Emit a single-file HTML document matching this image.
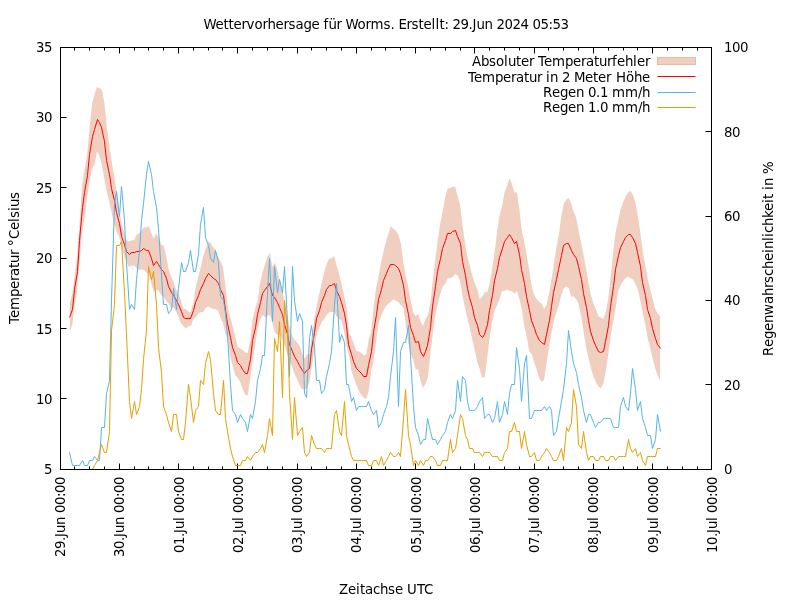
<!DOCTYPE html>
<html lang="de"><head><meta charset="utf-8"><title>Wettervorhersage für Worms</title>
<style>html,body{margin:0;padding:0;background:#fff}body{width:800px;height:600px;overflow:hidden}svg{display:block}text{font-family:"DejaVu Sans","Liberation Sans",sans-serif;font-size:13.33px;fill:#000}</style></head><body>
<svg width="800" height="600" viewBox="0 0 800 600">
<rect width="800" height="600" fill="#fff"/>
<path d="M60.5,469.5v-6M60.5,47.5v6M74.5,469.5v-3M74.5,47.5v3M89.5,469.5v-3M89.5,47.5v3M104.5,469.5v-3M104.5,47.5v3M119.5,469.5v-6M119.5,47.5v6M134.5,469.5v-3M134.5,47.5v3M148.5,469.5v-3M148.5,47.5v3M163.5,469.5v-3M163.5,47.5v3M178.5,469.5v-6M178.5,47.5v6M193.5,469.5v-3M193.5,47.5v3M208.5,469.5v-3M208.5,47.5v3M222.5,469.5v-3M222.5,47.5v3M237.5,469.5v-6M237.5,47.5v6M252.5,469.5v-3M252.5,47.5v3M267.5,469.5v-3M267.5,47.5v3M282.5,469.5v-3M282.5,47.5v3M297.5,469.5v-6M297.5,47.5v6M311.5,469.5v-3M311.5,47.5v3M326.5,469.5v-3M326.5,47.5v3M341.5,469.5v-3M341.5,47.5v3M356.5,469.5v-6M356.5,47.5v6M371.5,469.5v-3M371.5,47.5v3M385.5,469.5v-3M385.5,47.5v3M400.5,469.5v-3M400.5,47.5v3M415.5,469.5v-6M415.5,47.5v6M430.5,469.5v-3M430.5,47.5v3M445.5,469.5v-3M445.5,47.5v3M460.5,469.5v-3M460.5,47.5v3M474.5,469.5v-6M474.5,47.5v6M489.5,469.5v-3M489.5,47.5v3M504.5,469.5v-3M504.5,47.5v3M519.5,469.5v-3M519.5,47.5v3M534.5,469.5v-6M534.5,47.5v6M548.5,469.5v-3M548.5,47.5v3M563.5,469.5v-3M563.5,47.5v3M578.5,469.5v-3M578.5,47.5v3M593.5,469.5v-6M593.5,47.5v6M608.5,469.5v-3M608.5,47.5v3M623.5,469.5v-3M623.5,47.5v3M637.5,469.5v-3M637.5,47.5v3M652.5,469.5v-6M652.5,47.5v6M667.5,469.5v-3M667.5,47.5v3M682.5,469.5v-3M682.5,47.5v3M697.5,469.5v-3M697.5,47.5v3M711.5,469.5v-6M711.5,47.5v6M60.5,469.5h6M60.5,398.5h6M60.5,328.5h6M60.5,258.5h6M60.5,187.5h6M60.5,117.5h6M60.5,47.5h6M711.5,469.5h-6M711.5,384.5h-6M711.5,300.5h-6M711.5,216.5h-6M711.5,131.5h-6M711.5,47.5h-6" fill="none" stroke="#000" stroke-width="1"/>
<polygon points="69.9,303.5 72.3,293.7 74.8,274.0 77.3,254.3 79.8,221.9 82.2,183.9 84.7,168.5 87.2,154.4 89.6,127.7 92.1,103.8 94.6,93.9 97.0,86.9 99.5,88.3 102.0,89.7 104.5,103.8 106.9,127.7 109.4,146.0 111.9,162.8 114.3,176.9 116.8,192.4 119.3,209.3 121.7,224.7 124.2,233.2 126.7,240.2 129.2,241.6 131.6,240.2 134.1,240.2 136.6,234.6 139.0,233.2 141.5,230.4 144.0,227.6 146.4,227.6 148.9,226.1 151.4,233.2 153.8,238.8 156.3,233.2 158.8,237.4 161.3,244.4 163.7,245.8 166.2,255.7 168.7,269.8 171.1,276.8 173.6,282.4 176.1,289.4 178.5,293.7 181.0,300.7 183.5,309.1 186.0,309.1 188.4,312.0 190.9,312.0 193.4,302.1 195.8,286.6 198.3,276.8 200.8,266.9 203.2,255.7 205.7,248.7 208.2,241.6 210.7,243.0 213.1,247.2 215.6,250.1 218.1,257.1 220.5,261.3 223.0,266.9 225.5,286.6 227.9,307.7 230.4,317.6 232.9,327.4 235.3,335.9 237.8,347.1 240.3,348.5 242.8,349.9 245.2,352.7 247.7,352.7 250.2,340.1 252.6,319.0 255.1,309.1 257.6,300.7 260.0,283.8 262.5,272.6 265.0,264.1 267.5,257.1 269.9,252.9 272.4,266.9 274.9,262.7 277.3,269.8 279.8,281.0 282.3,289.4 284.7,303.5 287.2,314.8 289.7,327.4 292.2,335.9 294.6,340.1 297.1,342.9 299.6,345.7 302.0,352.7 304.5,358.4 307.0,354.2 309.4,354.2 311.9,334.5 314.4,319.0 316.8,304.9 319.3,293.7 321.8,282.4 324.3,271.2 326.7,264.1 329.2,258.5 331.7,258.5 334.1,255.7 336.6,265.5 339.1,274.0 341.5,283.8 344.0,295.1 346.5,306.3 349.0,333.1 351.4,337.3 353.9,344.3 356.4,351.3 358.8,351.3 361.3,352.7 363.8,355.6 366.2,354.2 368.7,340.1 371.2,331.6 373.7,306.3 376.1,288.0 378.6,275.4 381.1,262.7 383.5,251.5 386.0,241.6 388.5,233.2 390.9,226.1 393.4,229.0 395.9,230.4 398.3,234.6 400.8,243.0 403.3,262.7 405.8,276.8 408.2,286.6 410.7,300.7 413.2,312.0 415.6,316.2 418.1,313.4 420.6,321.8 423.0,326.0 425.5,319.0 428.0,314.8 430.5,302.1 432.9,279.6 435.4,258.5 437.9,238.8 440.3,223.3 442.8,210.7 445.3,196.6 447.7,188.2 450.2,188.2 452.7,186.8 455.2,186.8 457.6,196.6 460.1,205.0 462.6,226.1 465.0,243.0 467.5,257.1 470.0,266.9 472.4,275.4 474.9,283.8 477.4,289.4 479.8,299.3 482.3,296.5 484.8,292.3 487.3,292.3 489.7,283.8 492.2,268.3 494.7,251.5 497.1,231.8 499.6,214.9 502.1,206.5 504.5,192.4 507.0,185.4 509.5,178.3 512.0,183.9 514.4,192.4 516.9,192.4 519.4,209.3 521.8,230.4 524.3,241.6 526.8,255.7 529.2,269.8 531.7,286.6 534.2,295.1 536.7,299.3 539.1,302.1 541.6,303.5 544.1,309.1 546.5,304.9 549.0,293.7 551.5,279.6 553.9,264.1 556.4,247.2 558.9,234.6 561.3,216.3 563.8,203.6 566.3,199.4 568.8,198.0 571.2,203.6 573.7,212.1 576.2,217.7 578.6,230.4 581.1,243.0 583.6,255.7 586.0,268.3 588.5,282.4 591.0,295.1 593.5,303.5 595.9,309.1 598.4,316.2 600.9,317.6 603.3,319.0 605.8,312.0 608.3,297.9 610.7,276.8 613.2,251.5 615.7,231.8 618.2,220.5 620.6,209.3 623.1,202.2 625.6,196.6 628.0,192.4 630.5,191.0 633.0,195.2 635.4,202.2 637.9,216.3 640.4,233.2 642.8,251.5 645.3,265.5 647.8,279.6 650.3,289.4 652.7,299.3 655.2,309.1 657.7,313.4 660.1,316.2 660.1,380.9 657.7,375.3 655.2,368.2 652.7,358.4 650.3,348.5 647.8,338.7 645.3,324.6 642.8,313.4 640.4,300.7 637.9,289.4 635.4,283.8 633.0,279.6 630.5,278.2 628.0,276.8 625.6,278.2 623.1,281.0 620.6,285.2 618.2,290.9 615.7,307.7 613.2,321.8 610.7,335.9 608.3,354.2 605.8,371.0 603.3,383.7 600.9,387.9 598.4,386.5 595.9,382.3 593.5,376.7 591.0,368.2 588.5,358.4 586.0,347.1 583.6,331.6 581.1,316.2 578.6,303.5 576.2,299.3 573.7,296.5 571.2,296.5 568.8,288.0 566.3,286.6 563.8,288.0 561.3,295.1 558.9,304.9 556.4,312.0 553.9,320.4 551.5,333.1 549.0,347.1 546.5,364.0 544.1,379.5 541.6,382.3 539.1,378.1 536.7,369.6 534.2,362.6 531.7,354.2 529.2,351.3 526.8,337.3 524.3,326.0 521.8,309.1 519.4,299.3 516.9,290.9 514.4,293.7 512.0,290.9 509.5,290.9 507.0,289.4 504.5,290.9 502.1,290.9 499.6,299.3 497.1,304.9 494.7,310.5 492.2,321.8 489.7,337.3 487.3,357.0 484.8,376.7 482.3,378.1 479.8,369.6 477.4,362.6 474.9,351.3 472.4,340.1 470.0,328.8 467.5,319.0 465.0,307.7 462.6,296.5 460.1,281.0 457.6,275.4 455.2,274.0 452.7,276.8 450.2,278.2 447.7,278.2 445.3,283.8 442.8,286.6 440.3,293.7 437.9,303.5 435.4,314.8 432.9,333.1 430.5,352.7 428.0,376.7 425.5,383.7 423.0,387.9 420.6,380.9 418.1,369.6 415.6,369.6 413.2,359.8 410.7,354.2 408.2,342.9 405.8,324.6 403.3,307.7 400.8,304.9 398.3,302.1 395.9,300.7 393.4,299.3 390.9,302.1 388.5,303.5 386.0,306.3 383.5,310.5 381.1,316.2 378.6,323.2 376.1,341.5 373.7,359.8 371.2,371.0 368.7,390.7 366.2,399.2 363.8,397.8 361.3,394.9 358.8,390.7 356.4,385.1 353.9,378.1 351.4,371.0 349.0,355.6 346.5,345.7 344.0,331.6 341.5,320.4 339.1,319.0 336.6,316.2 334.1,312.0 331.7,312.0 329.2,312.0 326.7,314.8 324.3,319.0 321.8,321.8 319.3,327.4 316.8,333.1 314.4,347.1 311.9,365.4 309.4,382.3 307.0,387.9 304.5,389.3 302.0,389.3 299.6,385.1 297.1,379.5 294.6,373.8 292.2,366.8 289.7,361.2 287.2,354.2 284.7,345.7 282.3,340.1 279.8,334.5 277.3,334.5 274.9,333.1 272.4,323.2 269.9,314.8 267.5,316.2 265.0,317.6 262.5,314.8 260.0,320.4 257.6,328.8 255.1,345.7 252.6,361.2 250.2,379.5 247.7,394.9 245.2,394.9 242.8,389.3 240.3,382.3 237.8,378.1 235.3,375.3 232.9,366.8 230.4,357.0 227.9,338.7 225.5,334.5 223.0,323.2 220.5,317.6 218.1,310.5 215.6,309.1 213.1,309.1 210.7,307.7 208.2,306.3 205.7,307.7 203.2,312.0 200.8,312.0 198.3,313.4 195.8,317.6 193.4,319.0 190.9,326.0 188.4,326.0 186.0,328.8 183.5,326.0 181.0,323.2 178.5,316.2 176.1,312.0 173.6,307.7 171.1,307.7 168.7,303.5 166.2,300.7 163.7,296.5 161.3,295.1 158.8,290.9 156.3,289.4 153.8,292.3 151.4,283.8 148.9,274.0 146.4,272.6 144.0,269.8 141.5,269.8 139.0,269.8 136.6,268.3 134.1,265.5 131.6,265.5 129.2,266.9 126.7,262.7 124.2,255.7 121.7,247.2 119.3,237.4 116.8,231.8 114.3,224.7 111.9,213.5 109.4,202.2 106.9,192.4 104.5,179.7 102.0,165.7 99.5,155.8 97.0,151.6 94.6,164.3 92.1,168.5 89.6,181.1 87.2,196.6 84.7,216.3 82.2,231.8 79.8,258.5 77.3,288.0 74.8,304.9 72.3,324.6 69.9,331.6" fill="#f0cfc0" stroke="none"/>
<polyline points="69.5,317.5 72.5,309.5 74.5,289.5 77.5,271.5 79.5,240.5 82.5,207.5 84.5,192.5 87.5,175.5 89.5,154.5 92.5,136.5 94.5,129.5 97.5,119.5 99.5,122.5 101.5,127.5 104.5,141.5 106.5,160.5 109.5,174.5 111.5,188.5 114.5,200.5 116.5,212.5 119.5,223.5 121.5,236.5 124.5,244.5 126.5,251.5 129.5,254.5 131.5,252.5 134.5,252.5 136.5,251.5 139.5,251.5 141.5,250.5 143.5,248.5 146.5,250.5 148.5,250.5 151.5,258.5 153.5,265.5 156.5,261.5 158.5,264.5 161.5,269.5 163.5,271.5 166.5,278.5 168.5,286.5 171.5,292.5 173.5,295.5 176.5,300.5 178.5,304.5 181.5,311.5 183.5,317.5 185.5,318.5 188.5,318.5 190.5,318.5 193.5,310.5 195.5,302.5 198.5,295.5 200.5,289.5 203.5,283.5 205.5,278.5 208.5,273.5 210.5,275.5 213.5,278.5 215.5,279.5 218.5,283.5 220.5,289.5 223.5,295.5 225.5,310.5 227.5,323.5 230.5,337.5 232.5,347.5 235.5,355.5 237.5,362.5 240.5,365.5 242.5,369.5 245.5,373.5 247.5,373.5 250.5,359.5 252.5,340.5 255.5,327.5 257.5,314.5 260.5,302.5 262.5,293.5 264.5,290.5 267.5,286.5 269.5,283.5 272.5,295.5 274.5,297.5 277.5,302.5 279.5,307.5 282.5,314.5 284.5,324.5 287.5,334.5 289.5,344.5 292.5,351.5 294.5,356.5 297.5,361.5 299.5,365.5 302.5,370.5 304.5,373.5 306.5,370.5 309.5,368.5 311.5,349.5 314.5,332.5 316.5,318.5 319.5,310.5 321.5,302.5 324.5,295.5 326.5,289.5 329.5,285.5 331.5,285.5 334.5,283.5 336.5,290.5 339.5,296.5 341.5,302.5 344.5,313.5 346.5,325.5 348.5,344.5 351.5,354.5 353.5,361.5 356.5,368.5 358.5,370.5 361.5,373.5 363.5,376.5 366.5,376.5 368.5,365.5 371.5,351.5 373.5,332.5 376.5,314.5 378.5,299.5 381.5,289.5 383.5,280.5 386.5,273.5 388.5,268.5 390.5,264.5 393.5,264.5 395.5,265.5 398.5,268.5 400.5,273.5 403.5,285.5 405.5,300.5 408.5,314.5 410.5,327.5 413.5,335.5 415.5,342.5 418.5,341.5 420.5,351.5 423.5,356.5 425.5,351.5 427.5,345.5 430.5,327.5 432.5,306.5 435.5,286.5 437.5,271.5 440.5,258.5 442.5,248.5 445.5,240.5 447.5,233.5 450.5,233.5 452.5,231.5 455.5,230.5 457.5,236.5 460.5,243.5 462.5,261.5 465.5,275.5 467.5,288.5 469.5,297.5 472.5,307.5 474.5,317.5 477.5,325.5 479.5,334.5 482.5,337.5 484.5,334.5 487.5,324.5 489.5,310.5 492.5,295.5 494.5,280.5 497.5,268.5 499.5,257.5 502.5,248.5 504.5,241.5 507.5,237.5 509.5,234.5 511.5,237.5 514.5,243.5 516.5,241.5 519.5,254.5 521.5,269.5 524.5,283.5 526.5,296.5 529.5,310.5 531.5,320.5 534.5,328.5 536.5,334.5 539.5,340.5 541.5,342.5 544.5,344.5 546.5,334.5 549.5,320.5 551.5,306.5 553.5,292.5 556.5,279.5 558.5,269.5 561.5,255.5 563.5,245.5 566.5,243.5 568.5,243.5 571.5,250.5 573.5,254.5 576.5,258.5 578.5,266.5 581.5,279.5 583.5,293.5 586.5,307.5 588.5,320.5 590.5,331.5 593.5,340.5 595.5,345.5 598.5,351.5 600.5,352.5 603.5,351.5 605.5,341.5 608.5,325.5 610.5,306.5 613.5,286.5 615.5,269.5 618.5,255.5 620.5,247.5 623.5,241.5 625.5,237.5 628.5,234.5 630.5,234.5 632.5,237.5 635.5,243.5 637.5,252.5 640.5,266.5 642.5,282.5 645.5,295.5 647.5,309.5 650.5,318.5 652.5,328.5 655.5,338.5 657.5,344.5 660.5,348.5" fill="none" stroke="#ff0000" stroke-width="1" stroke-linejoin="miter" stroke-miterlimit="3.8"/>
<polyline points="69.5,452.5 72.5,465.5 74.5,465.5 77.5,465.5 79.5,465.5 82.5,460.5 84.5,465.5 87.5,465.5 89.5,460.5 92.5,460.5 94.5,456.5 97.5,460.5 99.5,460.5 101.5,427.5 104.5,427.5 106.5,393.5 109.5,380.5 111.5,300.5 114.5,203.5 116.5,191.5 119.5,216.5 121.5,186.5 124.5,220.5 126.5,262.5 129.5,309.5 131.5,304.5 134.5,309.5 136.5,279.5 139.5,250.5 141.5,220.5 143.5,203.5 146.5,174.5 148.5,161.5 151.5,174.5 153.5,191.5 156.5,207.5 158.5,228.5 161.5,275.5 163.5,304.5 166.5,304.5 168.5,313.5 171.5,309.5 173.5,288.5 176.5,309.5 178.5,288.5 181.5,262.5 183.5,271.5 185.5,271.5 188.5,262.5 190.5,250.5 193.5,271.5 195.5,271.5 198.5,254.5 200.5,224.5 203.5,207.5 205.5,237.5 208.5,245.5 210.5,258.5 213.5,262.5 215.5,250.5 218.5,262.5 220.5,296.5 223.5,300.5 225.5,313.5 227.5,334.5 230.5,384.5 232.5,410.5 235.5,414.5 237.5,422.5 240.5,414.5 242.5,418.5 245.5,422.5 247.5,431.5 250.5,414.5 252.5,418.5 255.5,401.5 257.5,380.5 260.5,368.5 262.5,355.5 264.5,355.5 267.5,292.5 269.5,258.5 272.5,321.5 274.5,266.5 277.5,292.5 279.5,279.5 282.5,292.5 284.5,266.5 287.5,321.5 289.5,376.5 292.5,266.5 294.5,300.5 297.5,321.5 299.5,313.5 302.5,321.5 304.5,393.5 306.5,397.5 309.5,338.5 311.5,325.5 314.5,347.5 316.5,380.5 319.5,380.5 321.5,393.5 324.5,389.5 326.5,376.5 329.5,363.5 331.5,351.5 334.5,304.5 336.5,283.5 339.5,342.5 341.5,334.5 344.5,342.5 346.5,384.5 348.5,384.5 351.5,401.5 353.5,397.5 356.5,410.5 358.5,406.5 361.5,406.5 363.5,406.5 366.5,406.5 368.5,401.5 371.5,410.5 373.5,414.5 376.5,410.5 378.5,427.5 381.5,422.5 383.5,414.5 386.5,406.5 388.5,397.5 390.5,376.5 393.5,351.5 395.5,317.5 398.5,406.5 400.5,351.5 403.5,342.5 405.5,342.5 408.5,325.5 410.5,355.5 413.5,406.5 415.5,427.5 418.5,435.5 420.5,444.5 423.5,439.5 425.5,439.5 427.5,418.5 430.5,431.5 432.5,439.5 435.5,439.5 437.5,444.5 440.5,439.5 442.5,435.5 445.5,431.5 447.5,422.5 450.5,414.5 452.5,418.5 455.5,410.5 457.5,380.5 460.5,401.5 462.5,376.5 465.5,380.5 467.5,401.5 469.5,410.5 472.5,410.5 474.5,410.5 477.5,406.5 479.5,401.5 482.5,397.5 484.5,418.5 487.5,414.5 489.5,414.5 492.5,422.5 494.5,418.5 497.5,401.5 499.5,422.5 502.5,414.5 504.5,401.5 507.5,414.5 509.5,393.5 511.5,384.5 514.5,384.5 516.5,347.5 519.5,368.5 521.5,401.5 524.5,363.5 526.5,355.5 529.5,418.5 531.5,418.5 534.5,410.5 536.5,410.5 539.5,410.5 541.5,410.5 544.5,406.5 546.5,410.5 549.5,406.5 551.5,410.5 553.5,435.5 556.5,431.5 558.5,418.5 561.5,401.5 563.5,389.5 566.5,363.5 568.5,330.5 571.5,351.5 573.5,363.5 576.5,372.5 578.5,384.5 581.5,397.5 583.5,410.5 586.5,422.5 588.5,414.5 590.5,414.5 593.5,422.5 595.5,427.5 598.5,422.5 600.5,422.5 603.5,418.5 605.5,418.5 608.5,418.5 610.5,418.5 613.5,427.5 615.5,427.5 618.5,427.5 620.5,406.5 623.5,397.5 625.5,406.5 628.5,410.5 630.5,393.5 632.5,368.5 635.5,389.5 637.5,410.5 640.5,401.5 642.5,418.5 645.5,427.5 647.5,435.5 650.5,435.5 652.5,448.5 655.5,439.5 657.5,414.5 660.5,431.5" fill="none" stroke="#56b4e9" stroke-width="1" stroke-linejoin="miter" stroke-miterlimit="3.8"/>
<polyline points="69.5,469.5 72.5,469.5 74.5,469.5 77.5,469.5 79.5,469.5 82.5,469.5 84.5,469.5 87.5,469.5 89.5,469.5 92.5,469.5 94.5,465.5 97.5,460.5 99.5,452.5 101.5,444.5 104.5,452.5 106.5,452.5 109.5,431.5 111.5,330.5 114.5,304.5 116.5,245.5 119.5,245.5 121.5,241.5 124.5,292.5 126.5,334.5 129.5,401.5 131.5,418.5 134.5,401.5 136.5,414.5 139.5,406.5 141.5,389.5 143.5,359.5 146.5,330.5 148.5,266.5 151.5,279.5 153.5,271.5 156.5,304.5 158.5,347.5 161.5,372.5 163.5,406.5 166.5,414.5 168.5,422.5 171.5,431.5 173.5,414.5 176.5,414.5 178.5,431.5 181.5,439.5 183.5,439.5 185.5,422.5 188.5,384.5 190.5,397.5 193.5,422.5 195.5,410.5 198.5,406.5 200.5,380.5 203.5,384.5 205.5,363.5 208.5,351.5 210.5,359.5 213.5,393.5 215.5,410.5 218.5,414.5 220.5,414.5 223.5,380.5 225.5,418.5 227.5,431.5 230.5,448.5 232.5,456.5 235.5,465.5 237.5,465.5 240.5,465.5 242.5,460.5 245.5,460.5 247.5,456.5 250.5,460.5 252.5,456.5 255.5,452.5 257.5,452.5 260.5,448.5 262.5,444.5 264.5,452.5 267.5,435.5 269.5,418.5 272.5,435.5 274.5,338.5 277.5,351.5 279.5,321.5 282.5,397.5 284.5,300.5 287.5,330.5 289.5,393.5 292.5,439.5 294.5,397.5 297.5,435.5 299.5,431.5 302.5,427.5 304.5,452.5 306.5,456.5 309.5,452.5 311.5,435.5 314.5,444.5 316.5,448.5 319.5,448.5 321.5,448.5 324.5,452.5 326.5,448.5 329.5,448.5 331.5,448.5 334.5,414.5 336.5,410.5 339.5,431.5 341.5,435.5 344.5,401.5 346.5,435.5 348.5,444.5 351.5,456.5 353.5,460.5 356.5,460.5 358.5,460.5 361.5,460.5 363.5,460.5 366.5,460.5 368.5,465.5 371.5,465.5 373.5,460.5 376.5,460.5 378.5,465.5 381.5,456.5 383.5,465.5 386.5,460.5 388.5,456.5 390.5,452.5 393.5,456.5 395.5,456.5 398.5,452.5 400.5,456.5 403.5,418.5 405.5,389.5 408.5,435.5 410.5,444.5 413.5,465.5 415.5,460.5 418.5,465.5 420.5,460.5 423.5,465.5 425.5,460.5 427.5,460.5 430.5,456.5 432.5,456.5 435.5,460.5 437.5,465.5 440.5,465.5 442.5,460.5 445.5,460.5 447.5,460.5 450.5,439.5 452.5,452.5 455.5,448.5 457.5,435.5 460.5,414.5 462.5,418.5 465.5,435.5 467.5,439.5 469.5,448.5 472.5,448.5 474.5,452.5 477.5,452.5 479.5,452.5 482.5,456.5 484.5,452.5 487.5,452.5 489.5,452.5 492.5,456.5 494.5,456.5 497.5,456.5 499.5,460.5 502.5,460.5 504.5,452.5 507.5,448.5 509.5,431.5 511.5,431.5 514.5,422.5 516.5,431.5 519.5,431.5 521.5,448.5 524.5,431.5 526.5,444.5 529.5,456.5 531.5,456.5 534.5,452.5 536.5,460.5 539.5,460.5 541.5,456.5 544.5,452.5 546.5,448.5 549.5,452.5 551.5,456.5 553.5,460.5 556.5,460.5 558.5,456.5 561.5,448.5 563.5,460.5 566.5,427.5 568.5,431.5 571.5,422.5 573.5,389.5 576.5,406.5 578.5,444.5 581.5,448.5 583.5,431.5 586.5,452.5 588.5,460.5 590.5,456.5 593.5,456.5 595.5,460.5 598.5,460.5 600.5,456.5 603.5,456.5 605.5,460.5 608.5,460.5 610.5,456.5 613.5,456.5 615.5,460.5 618.5,456.5 620.5,456.5 623.5,456.5 625.5,456.5 628.5,439.5 630.5,448.5 632.5,452.5 635.5,448.5 637.5,456.5 640.5,452.5 642.5,460.5 645.5,465.5 647.5,456.5 650.5,456.5 652.5,456.5 655.5,456.5 657.5,448.5 660.5,448.5" fill="none" stroke="#e69f00" stroke-width="1" stroke-linejoin="miter" stroke-miterlimit="3.8"/>
<rect x="60.5" y="47.5" width="651.0" height="422.0" fill="none" stroke="#000" stroke-width="1"/>
<text x="44" y="474.00">5</text>
<text x="36 44" y="404.00">10</text>
<text x="36 44" y="334.00">15</text>
<text x="36 44" y="263.00">20</text>
<text x="36 44" y="193.00">25</text>
<text x="36 44" y="122.00">30</text>
<text x="36 44" y="52.00">35</text>
<text x="724" y="474.00">0</text>
<text x="724 732" y="390.00">20</text>
<text x="724 732" y="305.00">40</text>
<text x="724 732" y="221.00">60</text>
<text x="724 732" y="137.00">80</text>
<text x="724 732 740" y="52.00">100</text>
<text transform="translate(65.00,477.00) rotate(-90)" x="-80 -72 -64 -60 -56 -48 -40 -36 -28 -20 -16 -8" y="0">29.Jun 00:00</text>
<text transform="translate(124.00,477.00) rotate(-90)" x="-80 -72 -64 -60 -56 -48 -40 -36 -28 -20 -16 -8" y="0">30.Jun 00:00</text>
<text transform="translate(184.00,477.00) rotate(-90)" x="-76 -68 -60 -56 -52 -44 -40 -36 -28 -20 -16 -8" y="0">01.Jul 00:00</text>
<text transform="translate(243.00,477.00) rotate(-90)" x="-76 -68 -60 -56 -52 -44 -40 -36 -28 -20 -16 -8" y="0">02.Jul 00:00</text>
<text transform="translate(302.00,477.00) rotate(-90)" x="-76 -68 -60 -56 -52 -44 -40 -36 -28 -20 -16 -8" y="0">03.Jul 00:00</text>
<text transform="translate(361.00,477.00) rotate(-90)" x="-76 -68 -60 -56 -52 -44 -40 -36 -28 -20 -16 -8" y="0">04.Jul 00:00</text>
<text transform="translate(421.00,477.00) rotate(-90)" x="-76 -68 -60 -56 -52 -44 -40 -36 -28 -20 -16 -8" y="0">05.Jul 00:00</text>
<text transform="translate(480.00,477.00) rotate(-90)" x="-76 -68 -60 -56 -52 -44 -40 -36 -28 -20 -16 -8" y="0">06.Jul 00:00</text>
<text transform="translate(539.00,477.00) rotate(-90)" x="-76 -68 -60 -56 -52 -44 -40 -36 -28 -20 -16 -8" y="0">07.Jul 00:00</text>
<text transform="translate(598.00,477.00) rotate(-90)" x="-76 -68 -60 -56 -52 -44 -40 -36 -28 -20 -16 -8" y="0">08.Jul 00:00</text>
<text transform="translate(658.00,477.00) rotate(-90)" x="-76 -68 -60 -56 -52 -44 -40 -36 -28 -20 -16 -8" y="0">09.Jul 00:00</text>
<text transform="translate(717.00,477.00) rotate(-90)" x="-76 -68 -60 -56 -52 -44 -40 -36 -28 -20 -16 -8" y="0">10.Jul 00:00</text>
<text x="203.5 215.5 223.5 228.5 233.5 241.5 246.5 254.5 262.5 267.5 275.5 283.5 288.5 295.5 303.5 311.5 319.5 323.5 328.5 336.5 341.5 345.5 357.5 365.5 370.5 383.5 390.5 394.5 398.5 406.5 411.5 418.5 423.5 431.5 435.5 439.5 444.5 448.5 452.5 460.5 468.5 472.5 476.5 484.5 492.5 496.5 504.5 512.5 520.5 528.5 532.5 540.5 548.5 552.5 560.5" y="29.00">Wettervorhersage für Worms. Erstellt: 29.Jun 2024 05:53</text>
<text x="339 348 356 360 365 373 380 388 395 403 407 417 424" y="593.80">Zeitachse UTC</text>
<text transform="translate(19.00,258.00) rotate(-90)" x="-66 -60 -52 -39 -31 -23 -18 -10 -5 3 8 12 19 28 36 40 47 51 59" y="0">Temperatur °Celsius</text>
<text transform="translate(773.00,259.00) rotate(-90)" x="-97 -88 -80 -72 -64 -56 -45 -37 -29 -24 -17 -10 -2 6 10 18 22 26 33 41 48 56 60 65 69 73 81 85" y="0">Regenwahrscheinlichkeit in %</text>
<text x="472 481 489 496 504 508 516 521 529 534 538 544 552 565 573 581 586 594 599 607 612 617 625 633 637 645" y="66.00">Absoluter Temperaturfehler</text>
<text x="468 474 482 495 503 511 516 524 529 537 542 546 550 558 562 570 574 585 593 598 606 611 616 626 634 642" y="81.70">Temperatur in 2 Meter Höhe</text>
<text x="543 552 560 568 576 584 588 596 600 608 612 625 638 642" y="97.00">Regen 0.1 mm/h</text>
<text x="543 552 560 568 576 584 588 596 600 608 612 625 638 642" y="112.20">Regen 1.0 mm/h</text>
<rect x="657.5" y="57.5" width="38" height="7" fill="#f0cfc0" stroke="#ebbaa4" stroke-width="1"/>
<path d="M657.5,76.5h38" stroke="#ff0000" stroke-width="1" fill="none"/>
<path d="M657.5,92.5h38" stroke="#56b4e9" stroke-width="1" fill="none"/>
<path d="M657.5,107.5h38" stroke="#e69f00" stroke-width="1" fill="none"/>
</svg></body></html>
